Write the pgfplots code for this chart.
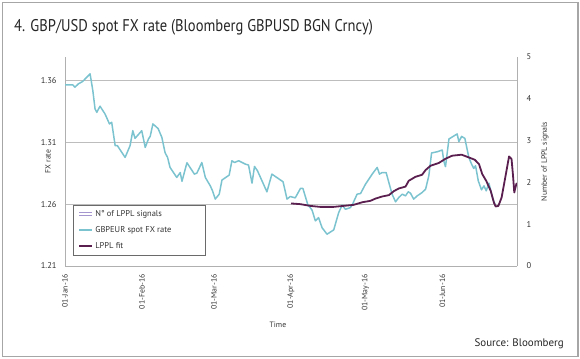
\documentclass[border=0pt]{standalone}
\usepackage{fontspec}
\setmainfont{PT Sans}
\newfontfamily\titlefont[FakeStretch=0.86]{PT Sans}
\usepackage{pgfplots}
\pgfplotsset{compat=1.18}
\definecolor{fxcyan}{HTML}{7CC3D0}
\definecolor{lpplpurple}{HTML}{5B1F4F}
\definecolor{gridgray}{HTML}{BDBDBD}
\definecolor{axisgray}{HTML}{B0B0B0}
\definecolor{framegray}{HTML}{A6A6A6}
\definecolor{lavender}{HTML}{A596CF}
\definecolor{legendgray}{HTML}{6A6A6A}
\begin{document}
\begin{tikzpicture}[x=1bp,y=1bp]
\useasboundingbox (0,0) rectangle (580,358);
\draw[framegray, line width=1.5bp] (2.5,1.5) rectangle (578,355.5);
\node[anchor=base west, inner sep=0pt, font=\titlefont\fontsize{17}{19}\selectfont, text=black!85] at (14,327) {4. GBP/USD spot FX rate (Bloomberg GBPUSD BGN Crncy)};
\node[anchor=base east, inner sep=0pt, font=\fontsize{11}{13}\selectfont, text=black!85] at (564,12) {Source: Bloomberg};
\begin{axis}[
  at={(65bp,92bp)}, anchor=south west,
  width=452bp, height=209bp, scale only axis,
  xmin=0, xmax=182, ymin=1.21, ymax=1.379,
  axis x line*=bottom, axis y line*=left,
  axis line style={axisgray, line width=0.8bp},
  major tick length=0pt,
  ymajorgrids, grid style={gridgray, line width=0.8bp},
  xtick={0,31,60,91,121,152},
  xticklabels={01-Jan-16,01-Feb-16,01-Mar-16,01-Apr-16,01-May-16,01-Jun-16},
  xticklabel style={rotate=90, anchor=east, xshift=0bp, font=\fontsize{7.8}{9}\selectfont, text=black!80},
  ytick={1.21,1.26,1.31,1.36},
  yticklabel style={/pgf/number format/fixed, /pgf/number format/precision=2, /pgf/number format/fixed zerofill, font=\fontsize{8.5}{10}\selectfont, text=black!80},
  /pgf/number format/assume math mode=true,
  xticklabel shift=5bp, yticklabel shift=5bp,
  ylabel={FX rate},
  ylabel style={at={(axis description cs:-0.038,0.5)}, anchor=center, rotate=0, font=\fontsize{7.8}{9}\selectfont, text=black!80},
  xlabel={Time},
  xlabel style={at={(axis description cs:0.471,-0.282)}, anchor=center, font=\fontsize{7.8}{9}\selectfont, text=black!80},
  legend cell align=left,
  legend style={at={(axis description cs:0.018,0.294)}, anchor=north west, draw=legendgray, line width=0.8bp, font=\fontsize{8.5}{10}\selectfont, text=black!80, inner xsep=5bp, inner ysep=3.5bp, row sep=4.5bp, /tikz/every even column/.append style={column sep=3bp}},
  legend image code/.code={\draw[#1] (0bp,0bp)--(13bp,0bp);},
]
\addlegendimage{legend image code/.code={\draw[lavender, line width=1bp] (0bp,1.4bp)--(13bp,1.4bp); \draw[lavender, line width=1bp] (0bp,-1.4bp)--(13bp,-1.4bp);}}
\addlegendentry{\makebox[103bp][l]{N° of LPPL signals}}
\addplot[fxcyan, line width=1.5bp, line join=round] coordinates {
(0,1.3565) (3.1,1.3565) (4.0,1.3546) (5.4,1.3573) (7.1,1.3592) (10.1,1.3654) (11.2,1.3519) (12.1,1.3370) (12.8,1.3343) (14.1,1.3392) (16.1,1.3330) (17.9,1.3249) (18.8,1.3262) (20.2,1.3073) (21.1,1.3073) (24.2,1.2978) (26.2,1.3073) (27.3,1.3194) (28.2,1.3132) (30.9,1.3194) (32.3,1.3059) (33.6,1.3127) (34.3,1.3148) (35.4,1.3249) (37.5,1.3211) (39.0,1.3140) (40.3,1.3016) (41.3,1.2978) (42.3,1.2897) (45.0,1.2816) (46.4,1.2856) (47.1,1.2785) (49.1,1.2935) (52.1,1.2843) (53.1,1.2851) (55.1,1.2937) (56.5,1.2816) (58.5,1.2748) (59.4,1.2708) (60.5,1.2641) (62.1,1.2681) (63.2,1.2795) (66.1,1.2835) (67.2,1.2951) (68.3,1.2937) (69.9,1.2951) (72.6,1.2924) (73.9,1.2916) (75.3,1.2770) (76.3,1.2905) (77.5,1.2870) (81.3,1.2700) (83.3,1.2843) (87.8,1.2781) (89.4,1.2641) (90.7,1.2662) (92.7,1.2651) (94.8,1.2727) (95.8,1.2727) (97.7,1.2600) (99.5,1.2551) (100.8,1.2465) (102.1,1.2491) (103.5,1.2410) (105.5,1.2357) (108.2,1.2392) (110.2,1.2532) (111.6,1.2592) (112.9,1.2559) (114.9,1.2572) (115.8,1.2600) (117.6,1.2681) (119.0,1.2686) (121.0,1.2762) (123.7,1.2843) (125.7,1.2897) (126.6,1.2843) (127.7,1.2856) (129.3,1.2856) (130.4,1.2775) (131.7,1.2681) (133.1,1.2619) (134.4,1.2654) (135.8,1.2681) (137.1,1.2667) (138.2,1.2700) (139.1,1.2689) (140.4,1.2641) (141.8,1.2667) (143.8,1.2694) (145.2,1.2722) (146.5,1.2830) (147.6,1.3014) (149.9,1.3024) (151.9,1.3038) (152.5,1.2951) (153.2,1.2903) (154.6,1.3127) (157.9,1.3168) (158.6,1.3105) (159.7,1.3148) (161.0,1.3132) (162.6,1.2978) (163.7,1.2924) (164.6,1.2889) (165.3,1.2911) (166.4,1.2789) (167.7,1.2716) (168.7,1.2748) (169.6,1.2708) (170.7,1.2770) (172.3,1.2641) (173.1,1.2600)
};
\addlegendentry{GBPEUR spot FX rate}
\addplot[lpplpurple, line width=1.8bp, line join=round] coordinates {
(91.0,1.2606) (94.8,1.2600) (98.8,1.2586) (102.8,1.2578) (108.1,1.2578) (112.1,1.2586) (116.1,1.2594) (119.8,1.2616) (123.0,1.2627) (125.0,1.2645) (127.7,1.2662) (130.4,1.2673) (132.4,1.2705) (134.4,1.2727) (137.1,1.2742) (138.4,1.2789) (141.1,1.2821) (143.8,1.2838) (145.2,1.2876) (147.2,1.2911) (150.5,1.2933) (153.2,1.2967) (155.9,1.2992) (159.7,1.3000) (162.6,1.2978) (165.0,1.2959) (166.7,1.2924) (168.0,1.2843) (169.6,1.2789) (171.4,1.2708) (172.7,1.2613) (173.4,1.2581) (174.5,1.2586) (175.8,1.2654) (177.4,1.2830) (178.8,1.2986) (179.8,1.2965) (180.4,1.2830) (180.9,1.2694) (181.7,1.2762) (182.0,1.2770)
};
\addlegendentry{LPPL fit}
\end{axis}
\begin{axis}[
  at={(65bp,92bp)}, anchor=south west,
  width=452bp, height=209bp, scale only axis,
  xmin=0, xmax=182, ymin=0, ymax=5,
  axis x line=none, axis y line*=right,
  axis line style={axisgray, line width=0.8bp},
  major tick length=0pt,
  ytick={0,1,2,3,4,5},
  yticklabel style={font=\fontsize{8.5}{10}\selectfont, text=black!80},
  /pgf/number format/assume math mode=true,
  yticklabel shift=6bp,
  ylabel={Number of LPPL signals},
  ylabel style={at={(axis description cs:1.062,0.5)}, anchor=center, rotate=0, font=\fontsize{7.8}{9}\selectfont, text=black!80},
]
\end{axis}
\end{tikzpicture}
\end{document}
